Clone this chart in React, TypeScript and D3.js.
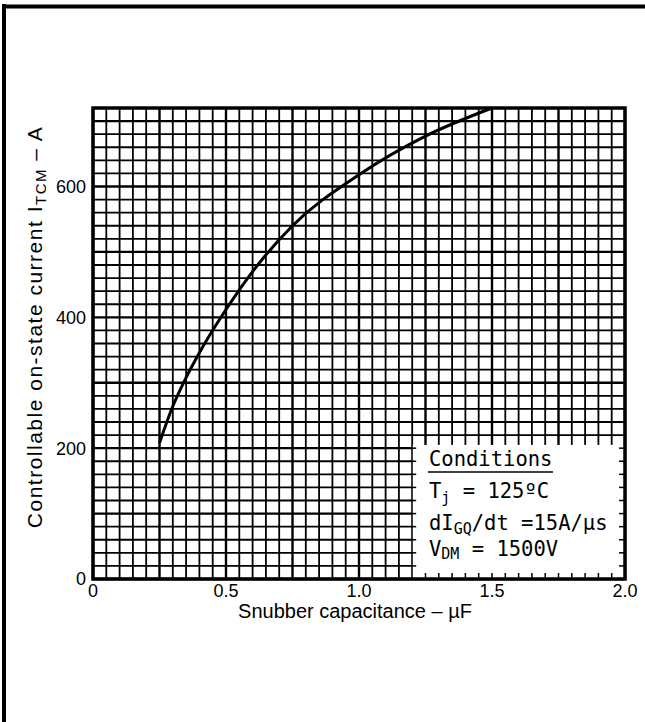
import React from "react";
import * as d3 from "d3";

const capValues = [0.25, 0.3, 0.35, 0.4, 0.5, 0.6, 0.75, 1.0, 1.25, 1.5];
const currentValues = [208, 264, 308, 346, 412, 470, 540, 618, 677, 720];
const xTickValues = [0, 0.5, 1.0, 1.5, 2.0];
const xTickLabels = ["0", "0.5", "1.0", "1.5", "2.0"];
const yTickValues = [0, 200, 400, 600];
const yTickLabels = ["0", "200", "400", "600"];
const xDomain = [0, 2.0];
const yDomain = [0, 720];
const xMinorStep = 0.05;
const yMinorStep = 20;
const boxXDomain = [1.2, 2.0];
const boxYTop = 205;

export default function App() {
  const W = 645, H = 722;
  const x = d3.scaleLinear().domain(xDomain).range([93, 625]);
  const y = d3.scaleLinear().domain(yDomain).range([579, 108]);

  const xLines = d3.range(0, 40 + 1).map((i) => i * xMinorStep);
  const yLines = d3.range(0, 36 + 1).map((i) => i * yMinorStep);

  const line = d3
    .line<number>()
    .x((_, i) => x(capValues[i]))
    .y((d) => y(d))
    .curve(d3.curveMonotoneX);

  const bx0 = x(boxXDomain[0]);
  const bx1 = x(boxXDomain[1]);
  const by0 = y(boxYTop);
  const by1 = y(0);

  const mono = "'DejaVu Sans Mono', 'Liberation Mono', monospace";
  const sans = "'Liberation Sans', Arial, sans-serif";

  return (
    <svg
      width={W}
      height={H}
      style={{ position: "absolute", left: 0, top: 0, background: "#fff" }}
    >
      <rect x={0} y={0} width={W} height={H} fill="#fff" />
      {/* outer frame */}
      <line x1={4} y1={4} x2={4} y2={H} stroke="#000" strokeWidth={4} />
      <line x1={2} y1={6.5} x2={W} y2={6.5} stroke="#000" strokeWidth={4} />

      {/* grid */}
      {xLines.map((v, i) => (
        <line
          key={"gx" + i}
          x1={x(v)}
          x2={x(v)}
          y1={y(yDomain[1])}
          y2={y(0)}
          stroke="#000"
          strokeWidth={i % 5 === 0 ? 2.4 : 1.8}
        />
      ))}
      {yLines.map((v, i) => (
        <line
          key={"gy" + i}
          x1={x(0)}
          x2={x(xDomain[1])}
          y1={y(v)}
          y2={y(v)}
          stroke="#000"
          strokeWidth={i % 5 === 0 ? 2.4 : 1.8}
        />
      ))}

      {/* conditions box */}
      <rect x={bx0} y={by0} width={bx1 - bx0} height={by1 - by0} fill="#fff" />
      <line x1={bx0} x2={bx0} y1={by0} y2={by1} stroke="#000" strokeWidth={1} />
      {xLines
        .filter((v) => v > boxXDomain[0] + 1e-9 && v < xDomain[1] - 1e-9)
        .map((v, i) => (
          <line key={"bt" + i} x1={x(v)} x2={x(v)} y1={by1} y2={by1 - 6} stroke="#000" strokeWidth={1.5} />
        ))}
      {yLines
        .filter((v) => v > 0 && v < boxYTop)
        .map((v, i) => (
          <g key={"br" + i}>
            <line x1={bx1} x2={bx1 - 6} y1={y(v)} y2={y(v)} stroke="#000" strokeWidth={1.5} />
            <line x1={bx0 - 1} x2={bx0 + 4} y1={y(v)} y2={y(v)} stroke="#000" strokeWidth={1.5} />
          </g>
        ))}

      {/* plot frame */}
      <rect
        x={x(0)}
        y={y(yDomain[1])}
        width={x(xDomain[1]) - x(0)}
        height={y(0) - y(yDomain[1])}
        fill="none"
        stroke="#000"
        strokeWidth={3.5}
      />

      {/* curve */}
      <path d={line(currentValues) || ""} fill="none" stroke="#000" strokeWidth={3} />

      {/* conditions text */}
      <g fontFamily={mono} fill="#000">
        <text x={429} y={466} fontSize={20.5}>Conditions</text>
        <line x1={428} x2={553} y1={472} y2={472} stroke="#000" strokeWidth={1.5} />
        <text x={429} y={498} fontSize={20.5}>
          T<tspan fontSize={15} dy={5}>j</tspan>
          <tspan dy={-5}> = 125ºC</tspan>
        </text>
        <text x={429} y={530} fontSize={20.5}>
          dI<tspan fontSize={15} dy={4}>GQ</tspan>
          <tspan dy={-4}>/dt =15A/µs</tspan>
        </text>
        <text x={429} y={556} fontSize={20.5}>
          V<tspan fontSize={15} dy={3}>DM</tspan>
          <tspan dy={-3}> = 1500V</tspan>
        </text>
      </g>

      {/* axis tick labels */}
      <g fontFamily={sans} fontSize={18} fill="#000">
        {xTickValues.map((v, i) => (
          <text key={"xt" + i} x={x(v)} y={597} textAnchor="middle">
            {xTickLabels[i]}
          </text>
        ))}
        {yTickValues.map((v, i) => (
          <text key={"yt" + i} x={86} y={y(v)} dy="0.36em" textAnchor="end">
            {yTickLabels[i]}
          </text>
        ))}
      </g>

      {/* axis titles */}
      <text x={355} y={618} textAnchor="middle" fontFamily={sans} fontSize={20} fill="#000">
        Snubber capacitance – µF
      </text>
      <text
        transform={`translate(42, 327) rotate(-90)`}
        textAnchor="middle"
        fontFamily={sans}
        fontSize={21}
        letterSpacing={1.5}
        fill="#000"
      >
        Controllable on-state current I
        <tspan fontSize={15} dy={4}>TCM</tspan>
        <tspan dy={-4}> – A</tspan>
      </text>
    </svg>
  );
}
